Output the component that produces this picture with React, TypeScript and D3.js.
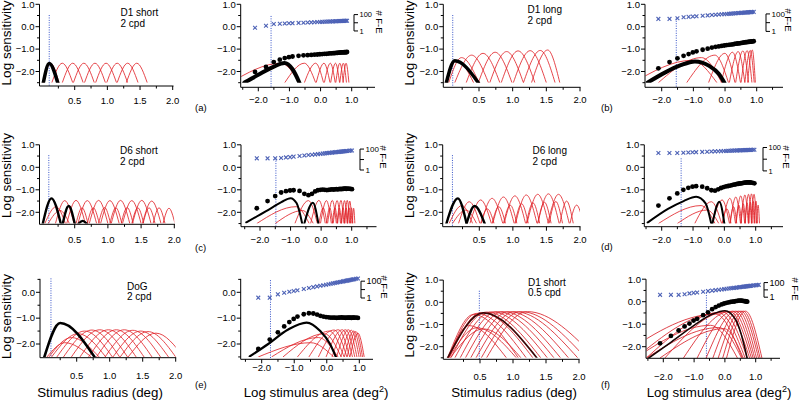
import React from 'react';
import * as d3 from 'd3';

// ---------- shared categories ----------
// stimulus radii (deg) at which the total response / F-E counts were sampled
const RADII = [0.05, 0.075, 0.1, 0.125, 0.15, 0.175, 0.2, 0.25, 0.3, 0.35, 0.4, 0.45, 0.5, 0.55, 0.6, 0.65, 0.7, 0.75, 0.8, 0.85, 0.9, 0.95, 1.0, 1.05, 1.1, 1.15, 1.2, 1.25, 1.3, 1.35, 1.4, 1.45, 1.5, 1.6, 1.7, 1.8, 1.9, 2.0];
const RAD_TICKS = [0.5, 1.0, 1.5, 2.0];
const RAD_MINOR = [0.25, 0.75, 1.25, 1.75];
const LA_TICKS = [-2, -1, 0, 1];
const LA_MINOR = [-2.5, -1.5, -0.5, 0.5, 1.5];
const Y_TICKS = [1, 0, -1, -2];
const Y_MINOR = [0.5, -0.5, -1.5, -2.5];
const FE_TICKS = [1, 10, 100];
const FE_LABELS = [1, 100];
const BASE = -2.5;

// ---------- filter response arcs [footLeft, peakRadius, peakLogSens, footRight] ----------
const A_RED = [
  [0.02, 0.13, -1.63, 0.26], [0.15, 0.31, -1.63, 0.47], [0.31, 0.47, -1.63, 0.63],
  [0.48, 0.64, -1.63, 0.8], [0.65, 0.81, -1.63, 0.97], [0.82, 0.98, -1.63, 1.14],
  [0.99, 1.15, -1.63, 1.31], [1.15, 1.31, -1.63, 1.47], [1.29, 1.45, -1.63, 1.61],
];
const A_BLACK = [[0.02, 0.11, -1.64, 0.24]];

const B_RED = [
  [0.02, 0.17, -1.5, 0.42], [0.05, 0.24, -1.38, 0.5], [0.14, 0.39, -1.27, 0.64],
  [0.31, 0.56, -1.19, 0.81], [0.49, 0.74, -1.14, 0.99], [0.66, 0.91, -1.11, 1.16],
  [0.83, 1.08, -1.08, 1.33], [1.01, 1.26, -1.07, 1.5], [1.16, 1.41, -1.06, 1.63],
  [1.28, 1.52, -1.04, 1.7],
];
const B_BLACK = [[0.015, 0.14, -1.52, 0.49]];

const C_RED = [
  [0.21, 0.35, -1.48, 0.49], [0.38, 0.52, -1.47, 0.66], [0.55, 0.69, -1.48, 0.83],
  [0.72, 0.86, -1.47, 1.0], [0.89, 1.03, -1.48, 1.17], [1.05, 1.19, -1.47, 1.33],
  [1.22, 1.36, -1.48, 1.5], [1.37, 1.51, -1.47, 1.65], [1.52, 1.66, -1.5, 1.8],
  [0.52, 0.61, -1.8, 0.7], [0.69, 0.78, -1.8, 0.87], [0.86, 0.95, -1.79, 1.04],
  [1.03, 1.12, -1.8, 1.21], [1.2, 1.29, -1.79, 1.38], [1.36, 1.45, -1.8, 1.54],
  [1.53, 1.62, -1.8, 1.71], [1.68, 1.77, -1.8, 1.86], [1.83, 1.92, -1.82, 2.01],
  [0.05, 0.22, -1.75, 0.36], [0.1, 0.28, -1.92, 0.42],
];
const C_BLACK = [[0.02, 0.15, -1.38, 0.29], [0.32, 0.41, -1.72, 0.5], [0.56, 0.62, -2.38, 0.68]];

const D_RED = [
  [0.19, 0.35, -1.53, 0.51], [0.36, 0.52, -1.45, 0.68], [0.53, 0.69, -1.38, 0.85],
  [0.7, 0.86, -1.32, 1.02], [0.87, 1.03, -1.27, 1.19], [1.04, 1.2, -1.23, 1.36],
  [1.21, 1.37, -1.2, 1.53], [1.37, 1.53, -1.18, 1.69], [1.52, 1.68, -1.2, 1.84],
  [0.52, 0.62, -1.85, 0.72], [0.69, 0.79, -1.75, 0.89], [0.86, 0.96, -1.68, 1.06],
  [1.03, 1.13, -1.62, 1.23], [1.2, 1.3, -1.58, 1.4], [1.37, 1.47, -1.55, 1.57],
  [1.54, 1.64, -1.52, 1.74], [1.7, 1.8, -1.5, 1.9], [1.85, 1.95, -1.68, 2.05],
  [0.05, 0.24, -1.7, 0.4], [0.1, 0.3, -1.9, 0.46],
];
const D_BLACK = [[0.01, 0.18, -1.38, 0.31], [0.31, 0.43, -1.72, 0.58]];

const E_RED = [
  [0.05, 0.32, -1.95, 0.72], [0.08, 0.42, -1.75, 0.84], [0.12, 0.52, -1.6, 0.94],
  [0.2, 0.62, -1.5, 1.04], [0.3, 0.73, -1.46, 1.15], [0.42, 0.85, -1.45, 1.27],
  [0.55, 0.98, -1.45, 1.4], [0.68, 1.1, -1.45, 1.52], [0.8, 1.22, -1.45, 1.64],
  [0.93, 1.35, -1.47, 1.77], [1.05, 1.47, -1.5, 1.89], [1.16, 1.58, -1.52, 2.0],
  [1.28, 1.7, -1.58, 2.12],
];
const E_BLACK = [[0.01, 0.25, -1.19, 0.77]];

const F_RED = [
  [0.01, 0.4, -0.55, 1.08], [0.02, 0.45, -0.5, 1.2], [0.03, 0.52, -0.46, 1.3],
  [0.06, 0.6, -0.44, 1.42], [0.12, 0.68, -0.43, 1.52], [0.2, 0.76, -0.42, 1.62],
  [0.28, 0.85, -0.42, 1.72], [0.36, 0.94, -0.42, 1.84], [0.44, 1.03, -0.42, 1.98],
  [0.52, 1.12, -0.42, 2.1], [0.6, 1.22, -0.42, 2.25],
  [0.02, 0.33, -1.05, 0.9], [0.03, 0.45, -1.15, 1.05], [0.05, 0.55, -1.2, 1.12],
];
const F_BLACK = [[0.01, 0.55, -0.48, 1.36]];

// ---------- single-filter curves vs log area [logArea, logSens] ----------
const A_LA_BLACK = [[[-2.45, -2.5], [-2.0, -2.15], [-1.5, -1.78], [-1.16, -1.62], [-0.9, -1.9], [-0.68, -2.5]]];
const B_LA_BLACK = [[[-2.45, -2.5], [-1.9, -2.05], [-1.4, -1.72], [-0.95, -1.55], [-0.5, -1.75], [-0.2, -2.1], [-0.02, -2.5]]];
const C_LA_BLACK = [
  [[-2.45, -2.45], [-1.8, -1.95], [-1.3, -1.55], [-1.0, -1.37], [-0.8, -1.6], [-0.62, -2.5]],
  [[-0.55, -2.5], [-0.27, -1.57], [-0.09, -2.5]],
];
const D_LA_BLACK = [
  [[-2.45, -2.46], [-1.8, -1.85], [-1.3, -1.5], [-0.9, -1.31], [-0.6, -1.6], [-0.42, -2.5]],
  [[-0.38, -2.5], [-0.16, -1.53], [0.0, -2.5]],
];
const E_LA_BLACK = [[[-2.37, -2.48], [-1.8, -2.0], [-1.2, -1.45], [-0.62, -1.17], [-0.2, -1.5], [0.1, -2.0], [0.28, -2.5]]];
const F_LA_BLACK = [[[-2.47, -2.5], [-1.8, -1.85], [-1.0, -1.05], [-0.4, -0.55], [0.0, -0.4], [0.35, -0.8], [0.6, -1.8], [0.72, -2.5]]];

// ---------- total sensitivity (black dots), one per radius ----------
const DOT_A = [-2.02, -1.8, -1.58, -1.47, -1.4, -1.36, -1.33, -1.3, -1.28, -1.27, -1.26, -1.25, -1.24, -1.23, -1.22, -1.21, -1.21, -1.2, -1.19, -1.19, -1.18, -1.18, -1.17, -1.17, -1.16, -1.16, -1.15, -1.15, -1.15, -1.14, -1.14, -1.14, -1.13];
const DOT_B = [-1.86, -1.58, -1.41, -1.3, -1.22, -1.15, -1.1, -1.03, -0.98, -0.93, -0.9, -0.88, -0.86, -0.84, -0.82, -0.81, -0.8, -0.79, -0.77, -0.76, -0.75, -0.74, -0.73, -0.72, -0.71, -0.7, -0.69, -0.69, -0.68, -0.68, -0.67, -0.67, -0.66, -0.65];
const DOT_C = [-1.82, -1.5, -1.28, -1.12, -1.06, -1.03, -1.02, -1.05, -1.18, -1.24, -1.18, -1.07, -1.02, -1.0, -0.99, -1.0, -1.01, -1.0, -0.99, -0.98, -0.99, -0.98, -0.97, -0.98, -0.97, -0.96, -0.97, -0.96, -0.96, -0.95, -0.95, -0.96, -0.95, -0.95, -0.96, -0.97];
const DOT_D = [-1.7, -1.38, -1.16, -1.0, -0.91, -0.86, -0.84, -0.86, -0.93, -1.02, -1.04, -0.98, -0.92, -0.88, -0.85, -0.83, -0.81, -0.79, -0.77, -0.76, -0.74, -0.73, -0.72, -0.71, -0.7, -0.69, -0.68, -0.68, -0.67, -0.67, -0.67, -0.67, -0.68, -0.69, -0.71];
const DOT_E = [-2.19, -1.83, -1.55, -1.32, -1.15, -1.03, -0.94, -0.85, -0.81, -0.82, -0.86, -0.91, -0.94, -0.96, -0.97, -0.98, -0.98, -0.98, -0.99, -0.98, -0.98, -0.97, -0.98, -0.98, -0.99, -0.98, -0.98, -0.98, -0.98, -0.99, -0.98, -0.98, -0.98, -0.98, -0.99];
const DOT_F = [-1.85, -1.52, -1.28, -1.1, -0.97, -0.84, -0.76, -0.6, -0.47, -0.33, -0.24, -0.17, -0.12, -0.08, -0.05, -0.03, -0.01, 0.0, 0.01, 0.03, 0.04, 0.05, 0.05, 0.05, 0.04, 0.03, 0.02, 0.01, 0.0];

// ---------- # F-E counts (blue crosses), one per radius ----------
const FE_A = [2.5, 4.4, 7.1, 7.6, 8.1, 8.6, 9.0, 9.7, 10.3, 10.8, 11.3, 11.8, 12.2, 12.6, 13.0, 13.4, 13.7, 14.0, 14.4, 14.6, 14.9, 15.2, 15.5, 15.7, 16.0, 16.2, 16.5, 16.7, 16.9, 17.1, 17.3, 17.6, 17.8];
const FE_B = [27, 27, 32, 42, 46, 50, 54, 61, 68, 74, 79, 85, 90, 95, 99, 104, 108, 113, 117, 121, 125, 128, 132, 135, 139, 143, 146, 149, 152, 156, 159, 162, 165, 171];
const FE_C = [13, 13, 13, 14, 16, 17, 19, 22, 24, 27, 29, 31, 33, 35, 37, 39, 41, 43, 45, 46, 48, 50, 51, 53, 54, 56, 57, 59, 60, 62, 63, 65, 66, 69, 71, 74];
const FE_D = [34, 34, 34, 36, 38, 39, 40, 42, 44, 46, 47, 48, 49, 50, 51, 52, 53, 54, 55, 55, 56, 57, 57, 58, 59, 59, 60, 60, 61, 61, 62, 62, 63, 64, 64];
const FE_E = [1.1, 1.1, 2.7, 4.2, 5.5, 6.9, 8.4, 11.8, 15.5, 19.5, 23.9, 28.5, 33.4, 38.5, 43.8, 49.5, 55, 61, 67, 74, 81, 87, 94, 101, 109, 116, 124, 132, 140, 148, 156, 165, 173, 191, 209];
const FE_F = [2.1, 2.1, 2.1, 2.6, 3.3, 3.9, 4.5, 5.6, 6.8, 8.0, 9.2, 10.4, 11.6, 12.8, 14.0, 15.2, 16.4, 17.7, 18.9, 20.1, 21.4, 22.6, 23.8, 25.1, 26.3, 27.6, 28.8, 30.1, 31.3, 32.6, 33.8, 35.1, 36.3, 38.8, 41.4, 44, 46.5, 49];

// ---------- dotted marker positions ----------
const MARK = { aR: 0.11, aL: -1.59, bR: 0.11, bL: -1.54, cR: 0.11, cL: -1.48, dR: 0.1, dL: -1.38, eR: 0.11, eL: -1.73, fR: 0.49, fL: -0.6 };

const FONT = "'Liberation Sans', Arial, Helvetica, sans-serif";
const RED = '#e2262c';
const BLUE_X = '#4d62b6';
const BLUE_LINE = '#3552c8';

const logArea = (r: number) => Math.log10(Math.PI * r * r);

type Cfg = {
  id: string; kind: 'rad' | 'la';
  xd: number[]; xr: number[]; yd: number[]; yr: number[];
  axX: number; axY: number; xEnd: number; yTop: number; tickY: number;
  red: number[][]; redColor?: string;
  blackArcs?: number[][]; blackPts?: number[][][]; blackW: number; blackColor?: string;
  dots?: number[]; fe?: number[];
  feAxis?: { x: number; lo: number; hi: number; labX: number; labY: number; fs: number };
  vline: number; vTop: number;
};

const fmt = d3.format('.1f');

function Panel({ c }: { c: Cfg }) {
  const x = d3.scaleLinear().domain(c.xd).range(c.xr);
  const y = d3.scaleLinear().domain(c.yd).range(c.yr);
  const conv = (v: number) => (c.kind === 'la' ? logArea(v) : v);
  const line = d3.line<number[]>().x((p) => x(p[0])).y((p) => y(p[1])).curve(d3.curveMonotoneX);
  const arcPts = (a: number[]) => [[conv(a[0]), BASE], [conv(a[1]), a[2]], [conv(a[3]), BASE]];
  const xTicks = c.kind === 'rad' ? RAD_TICKS : LA_TICKS;
  const xMinor = (c.kind === 'rad' ? RAD_MINOR : LA_MINOR).filter((v) => x(v) > c.axX + 1 && x(v) <= c.xEnd);
  const yTicks = Y_TICKS.filter((v) => v <= c.yTop + 1e-6);
  const yMinor = Y_MINOR.filter((v) => v <= c.yTop + 1e-6 && y(v) < c.axY - 1);
  const clipTop = y(c.yTop) - 6;
  const clipBottom = y(BASE);
  const clipRight = c.kind === 'rad' ? x(2.0) : c.xEnd;
  const fe = c.feAxis ? d3.scaleLog().domain([1, 100]).range([y(c.feAxis.lo), y(c.feAxis.hi)]) : null;
  return (
    <g>
      <defs>
        <clipPath id={`clip-${c.id}`}>
          <rect x={c.axX + 0.5} y={clipTop} width={clipRight - c.axX - 0.5} height={clipBottom - clipTop} />
        </clipPath>
      </defs>
      <line x1={x(c.vline)} x2={x(c.vline)} y1={y(c.vTop)} y2={c.axY} stroke={BLUE_LINE} strokeWidth={1} strokeDasharray="1,1.4" />
      <g clipPath={`url(#clip-${c.id})`} fill="none">
        {c.red.map((a, i) => (
          <path key={i} d={line(arcPts(a)) || ''} stroke={c.redColor || RED} strokeWidth={0.85} />
        ))}
        {(c.blackArcs || []).map((a, i) => (
          <path key={'b' + i} d={line(arcPts(a)) || ''} stroke={c.blackColor || '#000'} strokeWidth={c.blackW} strokeLinecap="round" />
        ))}
        {(c.blackPts || []).map((pts, i) => (
          <path key={'p' + i} d={line(pts) || ''} stroke={c.blackColor || '#000'} strokeWidth={c.blackW} strokeLinecap="round" />
        ))}
      </g>
      {(c.dots || []).map((d, i) => (
        <circle key={'d' + i} cx={x(logArea(RADII[i]))} cy={y(d)} r={2.4} fill="#000" />
      ))}
      {fe && (c.fe || []).map((n, i) => {
        const cx = x(logArea(RADII[i]));
        const cy = fe(n);
        const s = 1.9;
        return <path key={'x' + i} d={`M${cx - s},${cy - s}L${cx + s},${cy + s}M${cx + s},${cy - s}L${cx - s},${cy + s}`} stroke={BLUE_X} strokeWidth={1.1} fill="none" />;
      })}
      <line x1={c.axX} x2={c.axX} y1={y(c.yTop)} y2={c.axY} stroke="#000" strokeWidth={1} />
      <line x1={c.axX} x2={c.xEnd} y1={c.axY} y2={c.axY} stroke="#000" strokeWidth={1} />
      {yTicks.map((v) => (
        <g key={'yt' + v}>
          <line x1={c.axX - 4} x2={c.axX} y1={y(v)} y2={y(v)} stroke="#000" strokeWidth={1} />
          <text x={c.axX - 5} y={y(v)} dy="0.35em" textAnchor="end" fontSize={9.5} fontFamily={FONT}>{fmt(v)}</text>
        </g>
      ))}
      {yMinor.map((v) => (
        <line key={'ym' + v} x1={c.axX - 2.5} x2={c.axX} y1={y(v)} y2={y(v)} stroke="#000" strokeWidth={1} />
      ))}
      {xTicks.map((v) => (
        <g key={'xt' + v}>
          <line x1={x(v)} x2={x(v)} y1={c.axY} y2={c.axY + 4} stroke="#000" strokeWidth={1} />
          <text x={x(v)} y={c.tickY} dy="0.35em" textAnchor="middle" fontSize={9.5} fontFamily={FONT}>{fmt(v)}</text>
        </g>
      ))}
      {xMinor.map((v) => (
        <line key={'xm' + v} x1={x(v)} x2={x(v)} y1={c.axY} y2={c.axY + 2.5} stroke="#000" strokeWidth={1} />
      ))}
      {fe && c.feAxis && (
        <g>
          <line x1={c.feAxis.x} x2={c.feAxis.x} y1={fe(1)} y2={fe(100)} stroke="#000" strokeWidth={1} />
          {FE_TICKS.map((t) => (
            <line key={'ft' + t} x1={c.feAxis!.x} x2={c.feAxis!.x + 4} y1={fe(t)} y2={fe(t)} stroke="#000" strokeWidth={1} />
          ))}
          {FE_LABELS.map((t) => (
            <text key={'fl' + t} x={c.feAxis!.x + 5.5} y={fe(t)} dy="0.35em" fontSize={c.feAxis!.fs} fontFamily={FONT}>{t}</text>
          ))}
          <text transform={`translate(${c.feAxis.labX},${c.feAxis.labY}) rotate(90)`} textAnchor="middle" dy="0.35em" fontSize={9.5} fontFamily={FONT}># F-E</text>
        </g>
      )}
    </g>
  );
}

const ROW1 = { yd: [-2, 0], yr: [71.5, 26.7] };
const ROW2 = { yd: [-2, 0], yr: [212.3, 167.3] };

const PANELS: Cfg[] = [
  { id: 'aR', kind: 'rad', xd: [0.5, 2], xr: [74.7, 172.7], ...ROW1, axX: 39.5, axY: 86, xEnd: 173.5, yTop: 1, tickY: 100.5,
    red: A_RED, blackArcs: A_BLACK, blackW: 3.5, vline: MARK.aR, vTop: 0.52 },
  { id: 'aL', kind: 'la', xd: [-2, 1], xr: [258.3, 351.7], ...ROW1, axX: 240.7, axY: 87.3, xEnd: 375, yTop: 1, tickY: 100,
    red: A_RED, blackPts: A_LA_BLACK, blackW: 4, dots: DOT_A, fe: FE_A,
    feAxis: { x: 354, lo: -0.19, hi: 0.54, labX: 379, labY: 22, fs: 7.5 }, vline: MARK.aL, vTop: 0.48 },
  { id: 'bR', kind: 'rad', xd: [0.5, 2], xr: [479, 580], ...ROW1, axX: 443.3, axY: 87.3, xEnd: 580.5, yTop: 1, tickY: 100,
    red: B_RED, blackArcs: B_BLACK, blackW: 3.5, vline: MARK.bR, vTop: 0.52 },
  { id: 'bL', kind: 'la', xd: [-2, 1], xr: [661.7, 756.7], ...ROW1, axX: 645, axY: 87.3, xEnd: 783, yTop: 1, tickY: 100,
    red: B_RED, blackPts: B_LA_BLACK, blackW: 4, dots: DOT_B, fe: FE_B,
    feAxis: { x: 766, lo: -0.21, hi: 0.57, labX: 788, labY: 20, fs: 8 }, vline: MARK.bL, vTop: 0.37 },
  { id: 'cR', kind: 'rad', xd: [0.5, 2], xr: [74.7, 174.3], ...ROW2, axX: 39.5, axY: 224.3, xEnd: 175, yTop: 1, tickY: 240,
    red: C_RED, blackArcs: C_BLACK, blackW: 2.4, vline: MARK.cR, vTop: 0.54 },
  { id: 'cL', kind: 'la', xd: [-2, 1], xr: [260, 351.7], ...ROW2, axX: 241, axY: 226.7, xEnd: 376.5, yTop: 1, tickY: 240,
    red: C_RED, blackPts: C_LA_BLACK, blackW: 2, dots: DOT_C, fe: FE_C,
    feAxis: { x: 360, lo: -0.12, hi: 0.81, labX: 383, labY: 157, fs: 8 }, vline: MARK.cL, vTop: 0.4 },
  { id: 'dR', kind: 'rad', xd: [0.5, 2], xr: [479.3, 580], ...ROW2, axX: 442.7, axY: 226.7, xEnd: 580.5, yTop: 1, tickY: 240,
    red: D_RED, blackArcs: D_BLACK, blackW: 2.4, vline: MARK.dR, vTop: 0.54 },
  { id: 'dL', kind: 'la', xd: [-2, 1], xr: [661.7, 755.7], ...ROW2, axX: 644.3, axY: 226.7, xEnd: 783, yTop: 1, tickY: 240,
    red: D_RED, blackPts: D_LA_BLACK, blackW: 2, dots: DOT_D, fe: FE_D,
    feAxis: { x: 763, lo: -0.16, hi: 0.88, labX: 786, labY: 157, fs: 7.5 }, vline: MARK.dL, vTop: 0.4 },
  { id: 'eR', kind: 'rad', xd: [0.5, 2], xr: [76.7, 175.7], yd: [-2, 0], yr: [344, 292.3], axX: 40, axY: 357.7, xEnd: 176.2, yTop: 0.52, tickY: 375.7,
    red: E_RED, blackArcs: E_BLACK, blackW: 2.6, vline: MARK.eR, vTop: 0.54 },
  { id: 'eL', kind: 'la', xd: [-2, 1], xr: [261.7, 359.3], yd: [-2, 0], yr: [344, 292.3], axX: 240.7, axY: 359.3, xEnd: 373, yTop: 0.52, tickY: 367.3,
    red: E_RED, blackPts: E_LA_BLACK, blackW: 2.2, dots: DOT_E, fe: FE_E,
    feAxis: { x: 361, lo: -0.22, hi: 0.43, labX: 384, labY: 287, fs: 9 }, vline: MARK.eL, vTop: 0.47 },
  { id: 'fR', kind: 'rad', xd: [0.5, 2], xr: [480, 579], yd: [-2, 0], yr: [346.7, 302.3], axX: 443.3, axY: 359.3, xEnd: 579.5, yTop: 1, tickY: 376.7,
    red: F_RED, redColor: '#d9222a', blackArcs: F_BLACK, blackW: 1.7, blackColor: '#3a0606', vline: MARK.fR, vTop: 0.52 },
  { id: 'fL', kind: 'la', xd: [-2, 1], xr: [663.3, 755.7], yd: [-2, 0], yr: [346.7, 301.7], axX: 646, axY: 358.3, xEnd: 780, yTop: 1, tickY: 376.7,
    red: F_RED, redColor: '#d9222a', blackPts: F_LA_BLACK, blackW: 1.6, blackColor: '#1a0404', dots: DOT_F, fe: FE_F,
    feAxis: { x: 764, lo: 0.2, hi: 0.85, labX: 795, labY: 289, fs: 9 }, vline: MARK.fL, vTop: 0.4 },
];

const NOTES = [
  { lines: ['D1 short', '2 cpd'], x: 120.5, y: [16, 27] },
  { lines: ['D1 long', '2 cpd'], x: 527.5, y: [13, 23.5] },
  { lines: ['D6 short', '2 cpd'], x: 120, y: [154, 164.5] },
  { lines: ['D6 long', '2 cpd'], x: 532.5, y: [154, 164.5] },
  { lines: ['DoG', '2 cpd'], x: 127, y: [289.5, 300] },
  { lines: ['D1 short', '0.5 cpd'], x: 528, y: [285.5, 296] },
];
const LETTERS = [
  { t: '(a)', x: 195, y: 111 }, { t: '(b)', x: 601, y: 111 },
  { t: '(c)', x: 195, y: 251 }, { t: '(d)', x: 601, y: 250 },
  { t: '(e)', x: 195, y: 388 }, { t: '(f)', x: 601, y: 388 },
];
const YLABELS = [
  { x: 10.5, y: 43 }, { x: 10.5, y: 175.5 }, { x: 10.5, y: 316.5 },
  { x: 414, y: 43 }, { x: 414, y: 175.5 }, { x: 414, y: 315 },
];

export default function App() {
  return (
    <svg width={800} height={402} style={{ position: 'absolute', left: 0, top: 0, background: '#fff' }} fontFamily={FONT}>
      <rect x={0} y={0} width={800} height={402} fill="#fff" />
      {PANELS.map((c) => <Panel key={c.id} c={c} />)}
      {NOTES.map((n, i) => (
        <g key={'n' + i}>
          {n.lines.map((l, j) => (
            <text key={j} x={n.x} y={n.y[j]} fontSize={10} fontFamily={FONT}>{l}</text>
          ))}
        </g>
      ))}
      {LETTERS.map((l) => (
        <text key={l.t} x={l.x} y={l.y} fontSize={9.5} fontFamily={FONT}>{l.t}</text>
      ))}
      {YLABELS.map((p, i) => (
        <text key={'yl' + i} transform={`translate(${p.x},${p.y}) rotate(-90)`} textAnchor="middle" fontSize={13.5} fontFamily={FONT}>Log sensitivity</text>
      ))}
      <text x={100} y={397} textAnchor="middle" fontSize={13.3} fontFamily={FONT}>Stimulus radius (deg)</text>
      <text x={514} y={397} textAnchor="middle" fontSize={13.3} fontFamily={FONT}>Stimulus radius (deg)</text>
      <text x={316} y={397} textAnchor="middle" fontSize={13.3} fontFamily={FONT}>Log stimulus area (deg<tspan dy={-5} fontSize={9}>2</tspan><tspan dy={5}>)</tspan></text>
      <text x={719} y={397} textAnchor="middle" fontSize={13.3} fontFamily={FONT}>Log stimulus area (deg<tspan dy={-5} fontSize={9}>2</tspan><tspan dy={5}>)</tspan></text>
    </svg>
  );
}
